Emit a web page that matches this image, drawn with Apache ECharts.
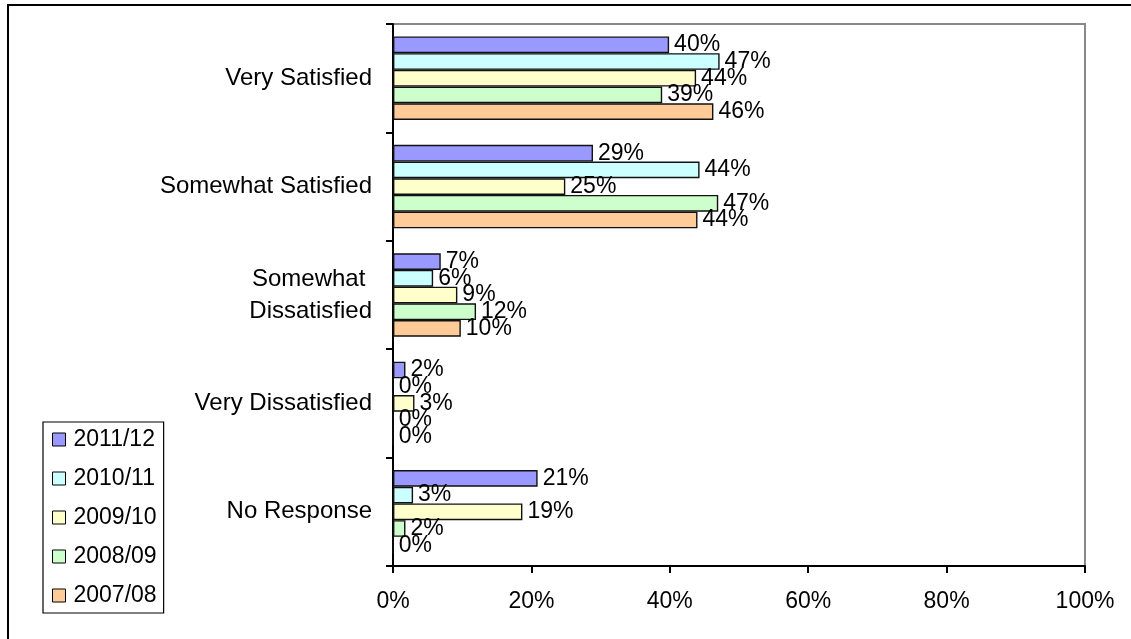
<!DOCTYPE html>
<html>
<head>
<meta charset="utf-8">
<script src="https://cdn.jsdelivr.net/npm/echarts@6/dist/echarts.min.js"></script>
<style>
html,body{margin:0;padding:0;background:#fff;}
#chart{width:1131px;height:639px;}
</style>
</head>
<body>
<div id="chart"></div>
<script>
const categories = ['Very Satisfied', 'Somewhat Satisfied', 'Somewhat \nDissatisfied', 'Very Dissatisfied', 'No Response'];
const seriesNames = ['2011/12', '2010/11', '2009/10', '2008/09', '2007/08'];
const s2011 = [39.9, 28.9, 6.9, 1.8, 20.9];
const s2010 = [47.2, 44.3, 5.8, 0, 2.9];
const s2009 = [43.8, 24.9, 9.3, 3.1, 18.7];
const s2008 = [38.9, 47.0, 12.0, 0, 1.8];
const s2007 = [46.3, 44.0, 9.8, 0, 0];
const xTicks = [0, 20, 40, 60, 80, 100];
const colors = ['#9999FF', '#CCFFFF', '#FFFFCC', '#CCFFCC', '#FFCC99'];

const FONT = "'Liberation Sans', Arial, sans-serif";
const allData = [s2011, s2010, s2009, s2008, s2007];

const chart = echarts.init(document.getElementById('chart'), null, {renderer: 'canvas'});
chart.setOption({
  backgroundColor: '#fff',
  animation: false,
  textStyle: {fontFamily: FONT},
  grid: {left: 393, right: 46, top: 24, bottom: 73, show: true, borderColor: '#888', borderWidth: 2, containLabel: false},
  legend: {
    orient: 'vertical', left: 43, top: 422,
    data: seriesNames,
    icon: 'rect', itemWidth: 13, itemHeight: 13, itemGap: 16,
    padding: [6, 7, 6, 9],
    borderColor: '#000', borderWidth: 1.2,
    itemStyle: {borderColor: '#000', borderWidth: 1},
    textStyle: {fontFamily: FONT, fontSize: 23, color: '#000', lineHeight: 23, padding: [0, 0, 0, 3]}
  },
  xAxis: {
    type: 'value', min: 0, max: 100, interval: 20,
    axisLine: {show: true, lineStyle: {color: '#000', width: 2}},
    axisTick: {show: true, length: 7, lineStyle: {color: '#000', width: 2}},
    splitLine: {show: false},
    axisLabel: {fontFamily: FONT, fontSize: 23, color: '#000', margin: 24, lineHeight: 23,
      formatter: v => (xTicks.indexOf(v) >= 0 ? v + '%' : '')}
  },
  yAxis: {
    type: 'category', data: categories, inverse: true,
    axisLine: {show: true, lineStyle: {color: '#000', width: 2}},
    axisTick: {show: true, length: 7, lineStyle: {color: '#000', width: 2}},
    axisLabel: {fontFamily: FONT, fontSize: 24, color: '#000', margin: 21, lineHeight: 32, align: 'right'}
  },
  series: seriesNames.map((name, i) => ({
    name: name, type: 'bar', data: allData[i],
    barGap: '0%', barCategoryGap: '23%',
    itemStyle: {color: colors[i], borderColor: '#111', borderWidth: 1.4},
    label: {show: true, position: 'right', distance: 5, fontFamily: FONT, fontSize: 23, color: '#000',
      formatter: p => Math.round(p.value) + '%'}
  })),
  graphic: [
    {type: 'rect', silent: true, z: 100, shape: {x: 8, y: 5, width: 2000, height: 2000},
     style: {fill: 'none', stroke: '#000', lineWidth: 2}}
  ]
});
</script>
</body>
</html>
